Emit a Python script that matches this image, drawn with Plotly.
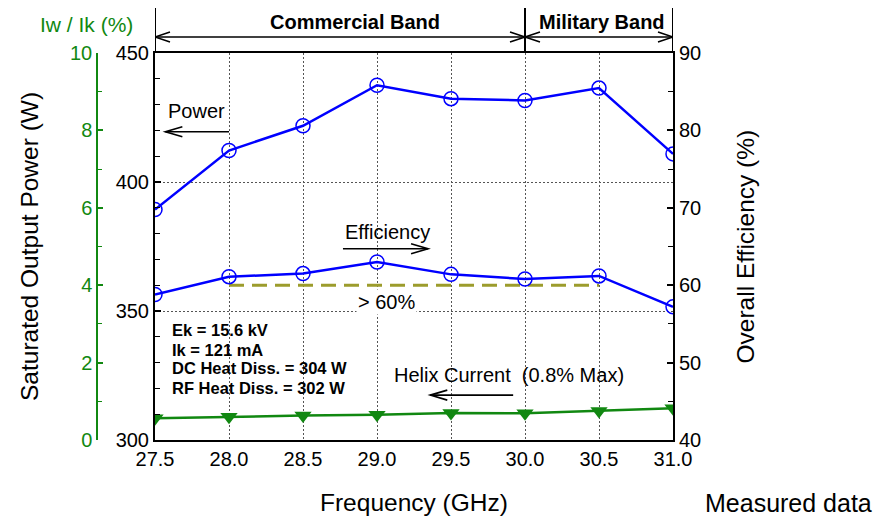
import plotly.graph_objects as go

# ---------------- data ----------------
freq_ghz = [27.5, 28.0, 28.5, 29.0, 29.5, 30.0, 30.5, 31.0]
power_w = [389.3, 412.2, 421.8, 437.5, 432.3, 431.6, 436.4, 410.9]
efficiency_pct = [58.8, 61.1, 61.5, 63.0, 61.4, 60.8, 61.2, 57.2]
helix_pct = [0.56, 0.60, 0.63, 0.65, 0.70, 0.69, 0.75, 0.82]

threshold_freq = [28.0, 30.5]
threshold_eff = [60, 60]

freq_ticks = [27.5, 28.0, 28.5, 29.0, 29.5, 30.0, 30.5, 31.0]
freq_ticktext = ["27.5", "28.0", "28.5", "29.0", "29.5", "30.0", "30.5", "31.0"]
power_ticks = [300, 350, 400, 450]
eff_ticks = [40, 50, 60, 70, 80, 90]
helix_ticks = [0, 2, 4, 6, 8, 10]

band_edges = [27.5, 30.0, 31.0]
band_names = ["Commercial Band", "Military Band"]
conditions = ["Ek = 15.6 kV", "Ik = 121 mA", "DC Heat Diss. = 304 W", "RF Heat Diss. = 302 W"]

# ---------------- geometry helpers ----------------
W, H = 879, 518
PL, PR, PT, PB = 155, 673, 53, 440  # plot area in pixels


def fx(p):
    return p / W


def fy(p):
    return 1 - p / H


FONT = "Liberation Sans, Arial, Helvetica, sans-serif"
BLUE = "#0000ff"
GREEN = "#118811"
OLIVE = "#9c9c2c"
GRID = "#555555"

fig = go.Figure()

fig.add_trace(go.Scatter(
    x=threshold_freq, y=threshold_eff, yaxis="y2", mode="lines",
    line=dict(color=OLIVE, width=3, dash="15px,8px"), hoverinfo="skip"))
fig.add_trace(go.Scatter(
    x=freq_ghz, y=power_w, yaxis="y", mode="lines+markers",
    line=dict(color=BLUE, width=2.5),
    marker=dict(symbol="circle-open", size=14, color=BLUE, line=dict(width=1.5, color=BLUE))))
fig.add_trace(go.Scatter(
    x=freq_ghz, y=efficiency_pct, yaxis="y2", mode="lines+markers",
    line=dict(color=BLUE, width=2.5),
    marker=dict(symbol="circle-open", size=14, color=BLUE, line=dict(width=1.5, color=BLUE))))
fig.add_trace(go.Scatter(
    x=freq_ghz, y=helix_pct, yaxis="y3", mode="lines+markers",
    line=dict(color=GREEN, width=2.5),
    marker=dict(symbol="triangle-down", size=15, color=GREEN)))

tickfont = dict(family=FONT, size=20, color="black")

fig.update_layout(
    template="none",
    width=W, height=H, autosize=False,
    margin=dict(l=0, r=0, t=0, b=0, pad=0, autoexpand=False),
    paper_bgcolor="white", plot_bgcolor="white",
    showlegend=False,
    font=dict(family=FONT, color="black"),
    xaxis=dict(
        domain=[fx(PL), fx(PR)], range=[27.5, 31.0], automargin=False,
        tickvals=freq_ticks, ticktext=freq_ticktext, ticks="",
        tickfont=tickfont, showgrid=True, gridcolor=GRID, gridwidth=1, griddash="2px,2px",
        showline=True, linecolor="black", linewidth=2, mirror=True, zeroline=False),
    yaxis=dict(
        domain=[fy(PB), fy(PT)], range=[300, 450], tickvals=power_ticks, automargin=False,
        ticks="inside", ticklen=6, tickwidth=1.5, tickcolor="black",
        minor=dict(dtick=10, ticks="inside", ticklen=5, tickwidth=1.2, tickcolor="black", showgrid=False),
        tickfont=tickfont, showgrid=True, gridcolor=GRID, gridwidth=1, griddash="2px,2px",
        showline=True, linecolor="black", linewidth=2, mirror=True, zeroline=False),
    yaxis2=dict(
        overlaying="y", side="right", anchor="x", range=[40, 90], tickvals=eff_ticks,
        automargin=False,
        ticks="inside", ticklen=6, tickwidth=1.5, tickcolor="black",
        minor=dict(dtick=5, ticks="inside", ticklen=5, tickwidth=1.2, tickcolor="black", showgrid=False),
        tickfont=tickfont, showgrid=False, showline=True, linecolor="black", linewidth=2,
        zeroline=False),
    yaxis3=dict(
        overlaying="y", side="left", anchor="free", position=fx(97), range=[0, 10],
        automargin=False,
        tickvals=helix_ticks, ticks="inside", ticklen=5, tickwidth=1.5, tickcolor=GREEN,
        minor=dict(dtick=1, ticks="inside", ticklen=4, tickwidth=1.2, tickcolor=GREEN, showgrid=False),
        tickfont=dict(family=FONT, size=20, color=GREEN), showgrid=False,
        showline=True, linecolor=GREEN, linewidth=1.5, zeroline=False),
)

shapes = []


def head(x, y, yref, direction, length=15, half=5):
    L = length * direction  # +1: opening to the right (points left); -1: points right
    shapes.append(dict(
        type="path", xref="x", yref=yref, xsizemode="pixel", ysizemode="pixel",
        xanchor=x, yanchor=y, path=f"M {L},{half} L 0,0 L {L},{-half}",
        line=dict(color="black", width=1.6)))


def arrow(x_tail, x_tip, y, yref, both=False, length=15, half=5):
    shapes.append(dict(type="line", xref="x", yref=yref, x0=x_tail, x1=x_tip, y0=y, y1=y,
                       line=dict(color="black", width=1.6)))
    d = 1 if x_tip < x_tail else -1
    head(x_tip, y, yref, d, length, half)
    if both:
        head(x_tail, y, yref, -d, length, half)


# band brackets
for e in band_edges:
    shapes.append(dict(type="line", xref="x", yref="paper", x0=e, x1=e, y0=fy(PT), y1=fy(8),
                       line=dict(color="black", width=2)))
for a, b in zip(band_edges[:-1], band_edges[1:]):
    arrow(b, a, fy(37), "paper", both=True, length=15, half=5)

# annotation arrows
arrow(28.0, 27.57, 419.5, "y", length=17, half=5)          # Power -> left
arrow(28.77, 29.345, 64.7, "y2", length=17, half=5)        # Efficiency -> right
arrow(29.92, 29.36, 1.16, "y3", length=17, half=5)         # Helix -> left

fig.update_layout(shapes=shapes)

ann = []
ann_font = dict(family=FONT, size=20, color="black")
band_label_x = [28.85, 30.52]
for name, xv in zip(band_names, band_label_x):
    ann.append(dict(x=xv, y=fy(22), xref="x", yref="paper", text=f"<b>{name}</b>",
                    showarrow=False, font=ann_font, xanchor="center", yanchor="middle"))

ann.append(dict(x=27.78, y=427.5, xref="x", yref="y", text="Power", showarrow=False,
                font=ann_font, xanchor="center", yanchor="middle"))
ann.append(dict(x=29.07, y=66.9, xref="x", yref="y2", text="Efficiency", showarrow=False,
                font=ann_font, xanchor="center", yanchor="middle"))
ann.append(dict(x=29.064, y=57.83, xref="x", yref="y2", text="&gt; 60%", showarrow=False,
                font=ann_font, xanchor="center", yanchor="middle", bgcolor="white", borderpad=1))
ann.append(dict(x=29.889, y=1.68, xref="x", yref="y3", text="Helix Current \u00a0(0.8% Max)",
                showarrow=False, font=ann_font, xanchor="center", yanchor="middle"))

cond_y = [330, 349.5, 368, 387.5]
for t, yp in zip(conditions, cond_y):
    ann.append(dict(x=fx(170), y=fy(yp), xref="paper", yref="paper", text=f"<b>{t}</b>",
                    showarrow=False, font=dict(family=FONT, size=16.5, color="black"),
                    xanchor="left", yanchor="middle"))

title_font = dict(family=FONT, size=24.5, color="black")
ann.append(dict(x=fx(29), y=fy(247), xref="paper", yref="paper", text="Saturated Output Power (W)",
                textangle=-90, showarrow=False, font=title_font, xanchor="center", yanchor="middle"))
ann.append(dict(x=fx(745), y=fy(246.5), xref="paper", yref="paper", text="Overall Efficiency (%)",
                textangle=-90, showarrow=False, font=title_font, xanchor="center", yanchor="middle"))
ann.append(dict(x=fx(413.5), y=fy(502), xref="paper", yref="paper", text="Frequency (GHz)",
                showarrow=False, font=title_font, xanchor="center", yanchor="middle"))
ann.append(dict(x=fx(788), y=0, xref="paper", yref="paper", text="Measured data",
                showarrow=False, font=dict(family=FONT, size=25, color="black"),
                xanchor="center", yanchor="bottom", borderpad=0))
ann.append(dict(x=fx(86), y=fy(24), xref="paper", yref="paper", text="Iw / Ik (%)",
                showarrow=False, font=dict(family=FONT, size=21, color=GREEN),
                xanchor="center", yanchor="middle"))

fig.update_layout(annotations=ann)

fig.write_html(
    "out.html",
    config={"displayModeBar": False},
    post_script="document.body.style.margin='0';document.body.style.overflow='hidden';",
)
